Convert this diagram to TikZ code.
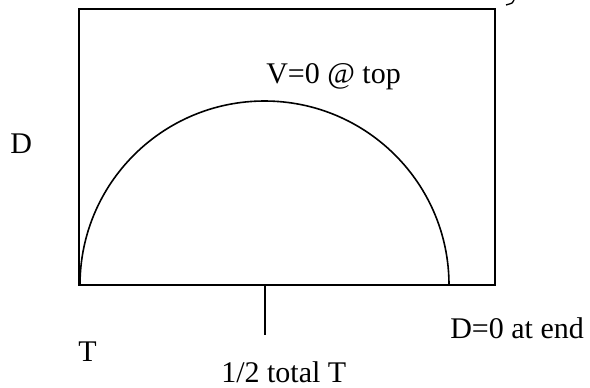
\documentclass[tikz,border=0pt]{standalone}
\usepackage{fontspec}
\setmainfont{Liberation Serif}
\begin{document}
\begin{tikzpicture}[x=0.75pt,y=-0.75pt,
  lbl/.style={anchor=base west,inner sep=0pt,font=\fontsize{22.5}{27}\selectfont},
  frame/.style={line width=1.5pt},
  curve/.style={line width=1.2pt}]
\useasboundingbox (0,0) rectangle (590,387);
% box
\draw[frame] (79,9) rectangle (495,285);
% semicircle
\draw[curve] (80,285) arc[start angle=180,end angle=360,x radius=184.5,y radius=184];
% tick
\coordinate (tickTop) at (265,285);
\coordinate (tickBot) at (265,335);
\draw[curve] (tickTop) -- (tickBot);
% fragment at top right
\draw[line width=1pt] (514,0) .. controls (513,3) .. (506,5);
% labels
\node[lbl] (vtop) at (266,83) {V=0 @ top};
\node[lbl] (dlab) at (10,153) {D};
\node[lbl] (tlab) at (78,361) {T};
\node[lbl] (half) at (221,382) {1/2 total T};
\node[lbl] (dend) at (450,338) {D=0 at end};
\end{tikzpicture}
\end{document}
